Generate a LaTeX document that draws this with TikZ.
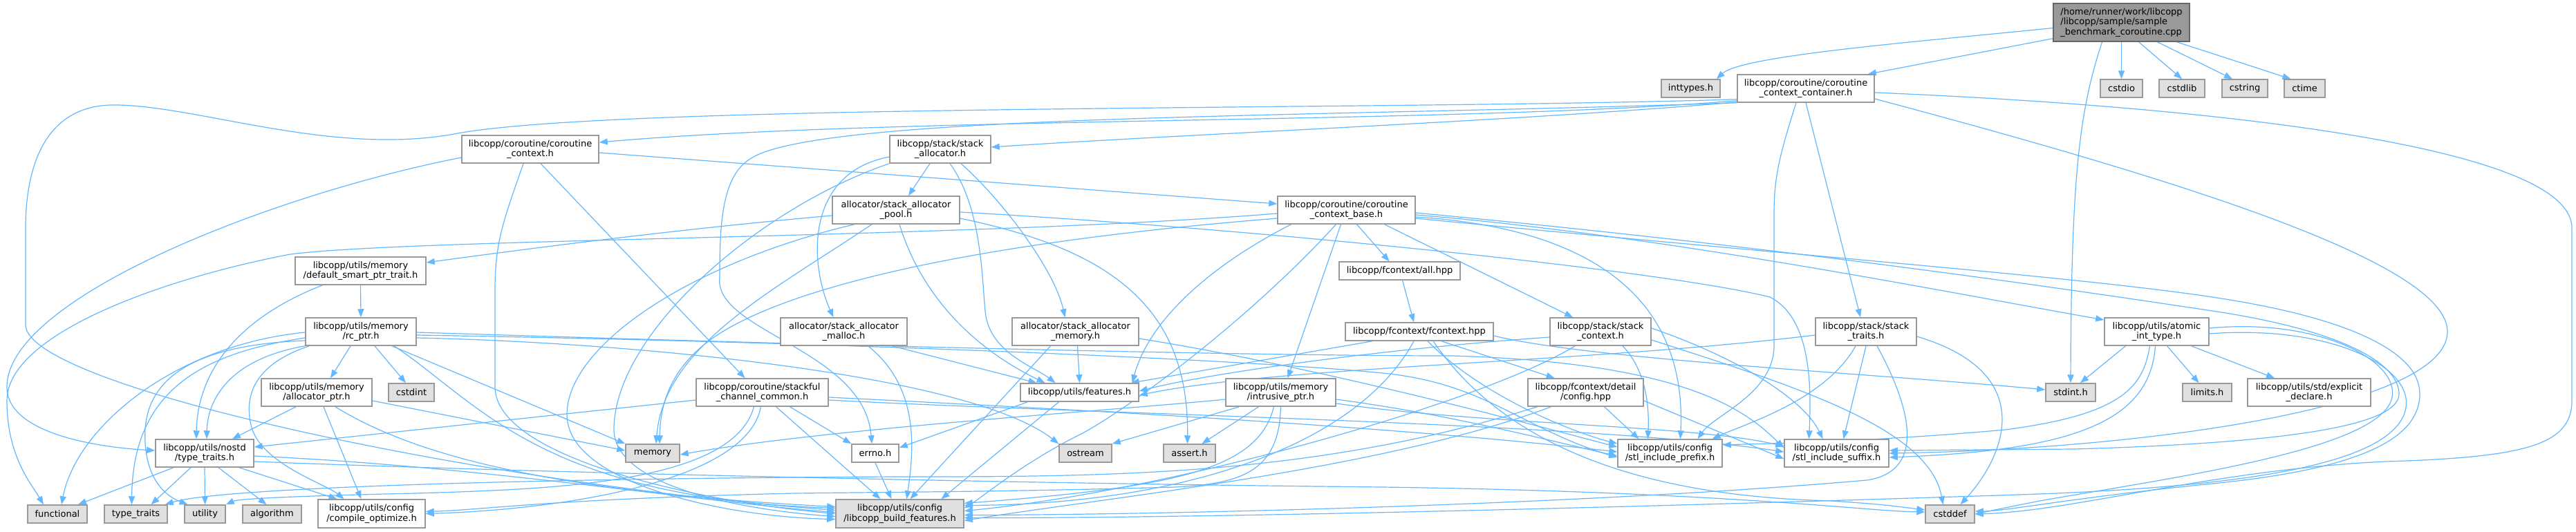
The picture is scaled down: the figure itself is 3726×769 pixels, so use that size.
\documentclass[tikz,border=0pt]{standalone}
\usepackage{fontspec}
\newfontfamily\dvs{DejaVu Sans}
\usetikzlibrary{arrows.meta,calc}
\definecolor{edgeblue}{HTML}{63B8FF}
\definecolor{boxborder}{HTML}{999999}
\definecolor{grayfill}{HTML}{E0E0E0}
\definecolor{mainfill}{HTML}{999999}
\definecolor{mainborder}{HTML}{666666}
\newcommand{\dgfont}{\dvs\fontsize{13}{14.5}\selectfont}
\pgfdeclarelayer{back}
\pgfdeclarelayer{bg}
\pgfsetlayers{back,bg,main}
\begin{document}
\begin{tikzpicture}[x=1pt,y=-1pt,
  e/.style={draw=edgeblue,line width=1.2pt,-{Triangle[length=12pt,width=9pt]}},
  nb/.style={draw=boxborder,line width=1.5pt,fill=white,inner sep=0pt,align=center,font=\dgfont,minimum height=40},
  gb/.style={nb,fill=grayfill,minimum height=26},
  sb/.style={nb,minimum height=26}]
\begin{pgfonlayer}{back}
\fill[white] (0,0) rectangle (3726,769);
\end{pgfonlayer}
\useasboundingbox (0,0) rectangle (3726,769);
% nodes
\node[nb,fill=mainfill,draw=mainborder,minimum width=197,minimum height=55,align=left] (main) at (3068.5,32.5) {/home/runner/work/libcopp\\/libcopp/sample/sample\\\_benchmark\_coroutine.cpp};
\node[gb,minimum width=85] (inttypes) at (2445.5,128) {inttypes.h};
\node[nb,minimum width=198] (container) at (2612,128) {libcopp/coroutine/coroutine\\\_context\_container.h};
\node[gb,minimum width=61] (cstdio) at (3068.5,128) {cstdio};
\node[gb,minimum width=66] (cstdlib) at (3156,128) {cstdlib};
\node[gb,minimum width=66] (cstring) at (3247,128) {cstring};
\node[gb,minimum width=59] (ctime) at (3333.5,128) {ctime};
\node[nb,minimum width=198] (CC) at (767,216) {libcopp/coroutine/coroutine\\\_context.h};
\node[nb,minimum width=146] (SA) at (1360,216) {libcopp/stack/stack\\\_allocator.h};
\node[nb,minimum width=184] (pool) at (1296,304) {allocator/stack\_allocator\\\_pool.h};
\node[nb,minimum width=199] (CB) at (1947.5,304) {libcopp/coroutine/coroutine\\\_context\_base.h};
\node[nb,minimum width=189] (DS) at (521.5,392) {libcopp/utils/memory\\/default\_smart\_ptr\_trait.h};
\node[sb,minimum width=175] (allhpp) at (2024.5,392) {libcopp/fcontext/all.hpp};
\node[nb,minimum width=160] (RC) at (522,480) {libcopp/utils/memory\\/rc\_ptr.h};
\node[nb,minimum width=183] (ML) at (1220.5,480) {allocator/stack\_allocator\\\_malloc.h};
\node[nb,minimum width=183] (SM) at (1555.5,480) {allocator/stack\_allocator\\\_memory.h};
\node[sb,minimum width=214] (FC) at (2053,480) {libcopp/fcontext/fcontext.hpp};
\node[nb,minimum width=146] (SK) at (2315,480) {libcopp/stack/stack\\\_context.h};
\node[nb,minimum width=146] (ST) at (2699,480) {libcopp/stack/stack\\\_traits.h};
\node[nb,minimum width=151] (AT) at (3119.5,480) {libcopp/utils/atomic\\\_int\_type.h};
\node[nb,minimum width=160] (AP) at (458,568) {libcopp/utils/memory\\/allocator\_ptr.h};
\node[gb,minimum width=66] (cstdint) at (595,568) {cstdint};
\node[nb,minimum width=191] (SC) at (1102.5,568) {libcopp/coroutine/stackful\\\_channel\_common.h};
\node[sb,minimum width=171] (FE) at (1561.5,568) {libcopp/utils/features.h};
\node[nb,minimum width=159] (IP) at (1852.5,568) {libcopp/utils/memory\\/intrusive\_ptr.h};
\node[nb,minimum width=167] (CF) at (2293.5,568) {libcopp/fcontext/detail\\/config.hpp};
\node[gb,minimum width=72] (stdint) at (2995,568) {stdint.h};
\node[gb,minimum width=71] (limits) at (3192.5,568) {limits.h};
\node[nb,minimum width=178] (EX) at (3340,568) {libcopp/utils/std/explicit\\\_declare.h};
\node[nb,minimum width=142] (NS) at (296,656) {libcopp/utils/nostd\\/type\_traits.h};
\node[gb,minimum width=78] (memory) at (944,656) {memory};
\node[sb,minimum width=68] (errno) at (1266,656) {errno.h};
\node[gb,minimum width=76] (ostream) at (1570,656) {ostream};
\node[gb,minimum width=75] (assert) at (1720.5,656) {assert.h};
\node[nb,minimum width=151] (PR) at (2415.5,656) {libcopp/utils/config\\/stl\_include\_prefix.h};
\node[nb,minimum width=151] (SU) at (2656.5,656) {libcopp/utils/config\\/stl\_include\_suffix.h};
\node[gb,minimum width=86] (functional) at (83,744) {functional};
\node[gb,minimum width=91] (typetraits) at (196.5,744) {type\_traits};
\node[gb,minimum width=59] (utility) at (296.5,744) {utility};
\node[gb,minimum width=85] (algorithm) at (393.5,744) {algorithm};
\node[nb,minimum width=155,minimum height=41] (CO) at (537.5,743.5) {libcopp/utils/config\\/compile\_optimize.h};
\node[nb,fill=grayfill,minimum width=185,minimum height=41] (BF) at (1301.5,743.5) {libcopp/utils/config\\/libcopp\_build\_features.h};
\node[gb,minimum width=71] (cstddef) at (2820.5,744) {cstddef};
\begin{pgfonlayer}{bg}
% main
\draw[e] ($(main.west)+(0,8)$) .. controls (2780,60) and (2520,80) .. ($(inttypes.north east)+(-6,0)$);
\draw[e] ($(main.south west)+(0,-5)$) -- ($(container.north east)+(-10,0)$);
\draw[e] ($(main.south)+(-28,0)$) .. controls (3008,160) and (2996,250) .. (stdint.north);
\draw[e] (main.south) -- (cstdio.north);
\draw[e] ($(main.south)+(25,0)$) -- (cstdlib.north);
\draw[e] ($(main.south)+(52,0)$) -- ($(cstring.north)+(-18,0)$);
\draw[e] ($(main.south)+(80,0)$) -- ($(ctime.north)+(-20,0)$);
% container
\draw[e] ($(container.south west)+(0,-3)$) .. controls (2100,180) and (1300,168) .. ($(CC.east)+(0,-10)$);
\draw[e] ($(container.south west)+(0,-1)$) .. controls (2200,175) and (1700,195) .. ($(SA.east)+(0,-3)$);
\draw[e] ($(container.south west)+(0,-5)$) .. controls (2000,160) and (900,150) .. (662,193) .. controls (480,228) and (280,150) .. (160,152) .. controls (60,155) and (37,250) .. (37,330) -- (37,470) .. controls (37,560) and (700,700) .. ($(BF.west)+(0,-5)$);
\draw[e] (container.south west) .. controls (1900,170) and (1180,165) .. (1085,230) .. controls (1045,255) and (1041,320) .. (1041,400) .. controls (1030,480) and (1250,505) .. ($(errno.north)+(-5,0)$);
\draw[e] (container.south) -- ($(ST.north)+(-8,0)$);
\draw[e] ($(container.south)+(-14,0)$) .. controls (2572,230) and (2566,260) .. (2566,310) -- (2566,500) .. controls (2566,570) and (2480,600) .. ($(PR.north)+(40,0)$);
\draw[e] ($(container.east)+(0,6)$) .. controls (3100,150) and (3720,200) .. (3720,330) -- (3720,580) .. controls (3720,645) and (3650,662) .. (3450,668) .. controls (3200,680) and (3000,740) .. (cstddef.east);
\draw[e] ($(container.east)+(0,15)$) .. controls (3150,260) and (3540,380) .. (3540,480) .. controls (3540,590) and (3100,650) .. (SU.east);
% coroutine_context
\draw[e] ($(CC.east)+(0,5)$) -- ($(CB.west)+(0,-9)$);
\draw[e] ($(CC.west)+(0,12)$) .. controls (400,280) and (10,430) .. (10,560) .. controls (10,630) and (150,648) .. ($(NS.west)+(0,-4)$);
\draw[e] ($(CC.south)+(-10,0)$) .. controls (728,320) and (716,350) .. (716,420) -- (716,560) .. controls (716,660) and (1000,725) .. (BF.west);
\draw[e] ($(CC.south)+(15,0)$) -- ($(SC.north)+(-25,0)$);
% stack_allocator
\draw[e] ($(SA.south)+(-15,0)$) -- ($(pool.north)+(18,0)$);
\draw[e] ($(SA.west)+(0,11)$) .. controls (1165,250) and (1170,380) .. ($(ML.north)+(-15,0)$);
\draw[e] (SA.south west) .. controls (1100,300) and (890,480) .. (888,620) .. controls (886,710) and (1100,740) .. ($(BF.west)+(0,4)$);
\draw[e] ($(SA.south)+(14,0)$) .. controls (1420,300) and (1420,400) .. (1425,450) .. controls (1430,510) and (1495,530) .. ($(FE.north)+(-35,0)$);
\draw[e] ($(SA.south)+(30,0)$) .. controls (1450,290) and (1525,390) .. ($(SM.north)+(-15,0)$);
% pool
\draw[e] ($(pool.west)+(0,8)$) .. controls (1000,330) and (800,355) .. ($(DS.east)+(0,-12)$);
\draw[e] ($(pool.south)+(-35,0)$) .. controls (1120,420) and (960,500) .. ($(memory.north)+(5,0)$);
\draw[e] ($(pool.south)+(-60,0)$) .. controls (1000,380) and (820,500) .. (820,600) .. controls (820,700) and (1050,748) .. ($(BF.west)+(0,8)$);
\draw[e] ($(pool.south)+(5,0)$) .. controls (1330,420) and (1400,500) .. ($(FE.north)+(-50,0)$);
\draw[e] ($(pool.east)+(0,12)$) .. controls (1600,360) and (1720,440) .. ($(assert.north)+(-3,0)$);
\draw[e] ($(pool.east)+(0,3)$) .. controls (1800,330) and (2400,390) .. (2560,430) .. controls (2620,460) and (2620,560) .. ($(SU.north)+(-40,0)$);
% malloc
\draw[e] ($(ML.south)+(70,0)$) -- ($(FE.north)+(-62,0)$);
\draw[e] ($(ML.south)+(35,0)$) .. controls (1330,560) and (1322,650) .. ($(BF.north)+(10,0)$);
% stack_allocator_memory
\draw[e] ($(SM.south)+(3,0)$) -- (FE.north);
\draw[e] ($(SM.south)+(-36,0)$) -- ($(BF.north)+(15,0)$);
\draw[e] ($(SM.east)+(0,10)$) .. controls (1900,530) and (2200,610) .. ($(PR.west)+(0,-9)$);
% coroutine_context_base
\draw[e] ($(CB.west)+(0,5)$) .. controls (1400,345) and (600,345) .. (420,368) .. controls (250,400) and (10,480) .. (10,580) .. controls (10,660) and (45,700) .. ($(functional.north)+(-20,0)$);
\draw[e] ($(CB.west)+(0,12)$) .. controls (1300,360) and (1100,440) .. (1030,490) .. controls (960,540) and (955,600) .. ($(memory.north)+(10,0)$);
\draw[e] ($(CB.south)+(-80,0)$) .. controls (1740,390) and (1660,470) .. ($(FE.north east)+(-10,0)$);
\draw[e] ($(CB.south)+(-15,0)$) .. controls (1800,470) and (1620,600) .. (1560,630) .. controls (1480,670) and (1420,720) .. ($(BF.east)+(0,-8)$);
\draw[e] ($(CB.south)+(-8,0)$) -- ($(IP.north)+(10,0)$);
\draw[e] ($(CB.south)+(15,0)$) -- ($(allhpp.north)+(-15,0)$);
\draw[e] ($(CB.south)+(55,0)$) -- ($(SK.north)+(-40,0)$);
\draw[e] ($(CB.east)+(0,7)$) .. controls (2400,340) and (2800,420) .. ($(AT.west)+(0,-17)$);
\draw[e] ($(CB.east)+(0,10)$) .. controls (2300,330) and (2440,430) .. ($(PR.north)+(15,0)$);
\draw[e] ($(CB.east)+(0,4)$) .. controls (2600,360) and (3000,420) .. (3200,450) .. controls (3400,480) and (3470,530) .. (3470,570) .. controls (3470,610) and (3350,640) .. (3000,650) -- ($(SU.east)+(0,-4)$);
\draw[e] ($(CB.east)+(0,12)$) .. controls (2600,370) and (3000,400) .. (3200,430) .. controls (3400,460) and (3500,510) .. (3500,570) .. controls (3500,640) and (3400,680) .. (3200,700) .. controls (3000,720) and (2900,740) .. ($(cstddef.east)+(0,-4)$);
% all.hpp / fcontext
\draw[e] ($(allhpp.south)+(4,0)$) -- ($(FC.north)+(-8,0)$);
\draw[e] ($(FC.south)+(-68,0)$) -- ($(FE.north east)+(-12,0)$);
\draw[e] ($(FC.south)+(32,0)$) -- ($(CF.north)+(-45,0)$);
\draw[e] ($(FC.south)+(-8,0)$) .. controls (1960,650) and (1700,730) .. ($(BF.east)+(0,-12)$);
\draw[e] ($(FC.south)+(12,0)$) .. controls (2150,580) and (2290,630) .. ($(PR.west)+(0,-14)$);
\draw[e] ($(FC.south)+(20,0)$) .. controls (2200,680) and (2450,720) .. (2650,725) .. controls (2720,730) .. ($(cstddef.west)+(0,-6)$);
\draw[e] ($(FC.east)+(0,6)$) .. controls (2300,520) and (2700,540) .. ($(stdint.west)+(0,-4)$);
% stack_context
\draw[e] ($(SK.west)+(0,8)$) .. controls (2000,505) and (1750,540) .. ($(FE.east)+(0,-2)$);
\draw[e] ($(SK.south)+(-37,0)$) .. controls (2150,580) and (1700,710) .. ($(BF.east)+(0,-4)$);
\draw[e] ($(SK.south)+(32,0)$) .. controls (2385,540) and (2385,600) .. ($(PR.north)+(-32,0)$);
\draw[e] ($(SK.east)+(0,-5)$) .. controls (2520,520) and (2610,580) .. ($(SU.north)+(-20,0)$);
\draw[e] ($(SK.east)+(0,12)$) .. controls (2600,560) and (2790,620) .. ($(cstddef.north)+(-10,0)$);
% stack_traits
\draw[e] ($(ST.west)+(0,5)$) .. controls (2300,525) and (1850,530) .. ($(FE.east)+(0,4)$);
\draw[e] ($(ST.south)+(-15,0)$) .. controls (2640,580) and (2520,615) .. ($(PR.north east)+(-15,0)$);
\draw[e] (ST.south) -- ($(SU.north)+(10,0)$);
\draw[e] ($(ST.east)+(0,7)$) .. controls (2950,540) and (2900,660) .. ($(cstddef.north)+(15,0)$);
\draw[e] ($(ST.south)+(16,0)$) .. controls (2780,620) and (2770,685) .. (2700,695) .. controls (2300,730) and (1700,745) .. ($(BF.east)+(0,2)$);
% atomic_int_type
\draw[e] ($(AT.south)+(-45,0)$) -- ($(stdint.north)+(14,0)$);
\draw[e] ($(AT.south)+(15,0)$) -- ($(limits.north)+(-12,0)$);
\draw[e] ($(AT.south)+(50,0)$) -- ($(EX.north)+(-50,0)$);
\draw[e] ($(AT.south)+(-10,0)$) .. controls (3100,560) and (3070,600) .. (2900,622) .. controls (2700,640) and (2550,642) .. ($(PR.east)+(0,-12)$);
\draw[e] ($(AT.south)+(-2,0)$) .. controls (3110,610) and (3000,652) .. ($(SU.east)+(0,6)$);
\draw[e] ($(AT.east)+(0,-5)$) .. controls (3350,460) and (3470,520) .. (3460,575) .. controls (3445,650) and (3150,690) .. (2950,725) .. controls (2900,735) .. (cstddef.east);
\draw[e] ($(AT.east)+(0,3)$) .. controls (3370,470) and (3490,530) .. (3480,590) .. controls (3465,680) and (3200,705) .. (2950,715) .. controls (2500,730) and (1800,750) .. ($(BF.east)+(0,6)$);
% intrusive_ptr
\draw[e] ($(IP.south)+(-60,0)$) -- (ostream.north east);
\draw[e] ($(IP.south)+(-32,0)$) -- ($(assert.north)+(18,0)$);
\draw[e] ($(IP.south)+(-10,0)$) .. controls (1820,680) and (1700,705) .. ($(BF.east)+(0,-15)$);
\draw[e] (IP.south) .. controls (1850,680) and (1800,700) .. (1700,705) .. controls (1450,712) and (1300,712) .. (1150,714) .. controls (800,722) and (700,738) .. ($(CO.east)+(0,-3)$);
\draw[e] ($(IP.west)+(0,10)$) .. controls (1600,595) and (1200,620) .. ($(memory.east)+(0,2)$);
\draw[e] ($(IP.east)+(0,10)$) .. controls (2100,600) and (2250,640) .. ($(PR.west)+(0,4)$);
\draw[e] ($(IP.east)+(0,16)$) .. controls (2150,615) and (2450,615) .. ($(SU.west)+(0,-10)$);
% config.hpp
\draw[e] ($(CF.south)+(-70,0)$) .. controls (1900,690) and (1600,690) .. (1300,690) .. controls (800,692) and (320,705) .. ($(typetraits.north east)+(-4,0)$);
\draw[e] ($(CF.south)+(-50,0)$) .. controls (2000,680) and (1600,720) .. ($(BF.east)+(0,10)$);
\draw[e] ($(CF.south)+(27,0)$) -- ($(PR.north)+(-45,0)$);
\draw[e] ($(CF.east)+(0,12)$) -- ($(SU.west)+(0,8)$);
% stackful channel
\draw[e] ($(SC.west)+(0,11)$) -- ($(NS.east)+(0,-9)$);
\draw[e] ($(SC.south)+(40,0)$) -- (errno.north west);
\draw[e] ($(SC.south)+(20,0)$) -- ($(BF.north)+(-28,0)$);
\draw[e] ($(SC.south)+(-12,0)$) .. controls (1060,700) and (800,708) .. (600,714) .. controls (420,718) and (345,722) .. (utility.north east);
\draw[e] ($(SC.south)+(-2,0)$) .. controls (1080,700) and (800,738) .. (CO.east);
\draw[e] ($(SC.east)+(0,7)$) .. controls (1500,590) and (2000,615) .. ($(PR.west)+(0,-2)$);
\draw[e] ($(SC.east)+(0,11)$) .. controls (1600,600) and (2300,612) .. ($(SU.west)+(0,-2)$);
% allocator_ptr
\draw[e] ($(AP.south)+(-30,0)$) -- ($(NS.north)+(40,0)$);
\draw[e] ($(AP.south)+(10,0)$) -- ($(CO.north)+(-15,0)$);
\draw[e] ($(AP.east)+(0,12)$) -- ($(memory.west)+(0,-4)$);
\draw[e] ($(AP.south)+(27,0)$) .. controls (600,660) and (800,712) .. ($(BF.west)+(0,-10)$);
% rc_ptr
\draw[e] ($(RC.south)+(-15,0)$) -- ($(AP.north)+(20,0)$);
\draw[e] ($(RC.south)+(20,0)$) -- ($(cstdint.north)+(-8,0)$);
\draw[e] ($(RC.south)+(45,0)$) -- (memory.north west);
\draw[e] ($(RC.west)+(0,1)$) .. controls (250,500) and (110,620) .. ($(functional.north)+(6,0)$);
\draw[e] ($(RC.west)+(0,9)$) .. controls (300,510) and (192,560) .. ($(typetraits.north)+(-6,0)$);
\draw[e] ($(RC.west)+(0,13)$) .. controls (260,500) and (205,560) .. (210,640) .. controls (213,700) and (245,720) .. ($(utility.north)+(-25,0)$);
\draw[e] (RC.south west) .. controls (330,520) and (300,580) .. ($(NS.north)+(3,0)$);
\draw[e] ($(RC.south west)+(6,0)$) .. controls (360,530) and (355,580) .. (363,615) .. controls (375,670) and (470,700) .. ($(CO.north)+(-40,0)$);
\draw[e] ($(RC.south)+(48,0)$) .. controls (690,580) and (780,720) .. ($(BF.west)+(0,-8)$);
\draw[e] ($(RC.east)+(0,9)$) .. controls (900,495) and (1400,540) .. (ostream.north west);
\draw[e] ($(RC.east)+(0,5)$) .. controls (1200,495) and (1800,520) .. (2000,540) .. controls (2150,555) and (2200,620) .. ($(PR.west)+(0,6)$);
\draw[e] ($(RC.east)+(0,1)$) .. controls (1200,500) and (1800,515) .. (2100,515) .. controls (2450,525) and (2530,600) .. ($(SU.west)+(0,-8)$);
% default_smart_ptr_trait
\draw[e] (DS.south) -- (RC.north);
\draw[e] ($(DS.south)+(-55,0)$) .. controls (320,470) and (285,560) .. ($(NS.north)+(-12,0)$);
% nostd type_traits
\draw[e] ($(NS.south)+(-45,0)$) -- ($(functional.north)+(30,0)$);
\draw[e] ($(NS.south)+(-20,0)$) -- ($(typetraits.north)+(22,0)$);
\draw[e] (NS.south) -- (utility.north);
\draw[e] ($(NS.south)+(20,0)$) -- ($(algorithm.north)+(-8,0)$);
\draw[e] ($(NS.south)+(50,0)$) -- ($(CO.north)+(-50,0)$);
\draw[e] ($(NS.east)+(0,4)$) .. controls (700,675) and (1000,725) .. ($(BF.west)+(0,-2)$);
\draw[e] ($(NS.east)+(0,12)$) .. controls (800,685) and (1500,700) .. (2000,705) .. controls (2500,712) and (2700,740) .. ($(cstddef.west)+(0,-3)$);
% features / errno
\draw[e] ($(FE.south)+(-30,0)$) -- ($(BF.north)+(60,0)$);
\draw[e] ($(FE.south)+(-75,0)$) -- ($(errno.east)+(0,-8)$);
\draw[e] (errno.south) -- ($(BF.north)+(-12,0)$);
\end{pgfonlayer}
\end{tikzpicture}
\end{document}
